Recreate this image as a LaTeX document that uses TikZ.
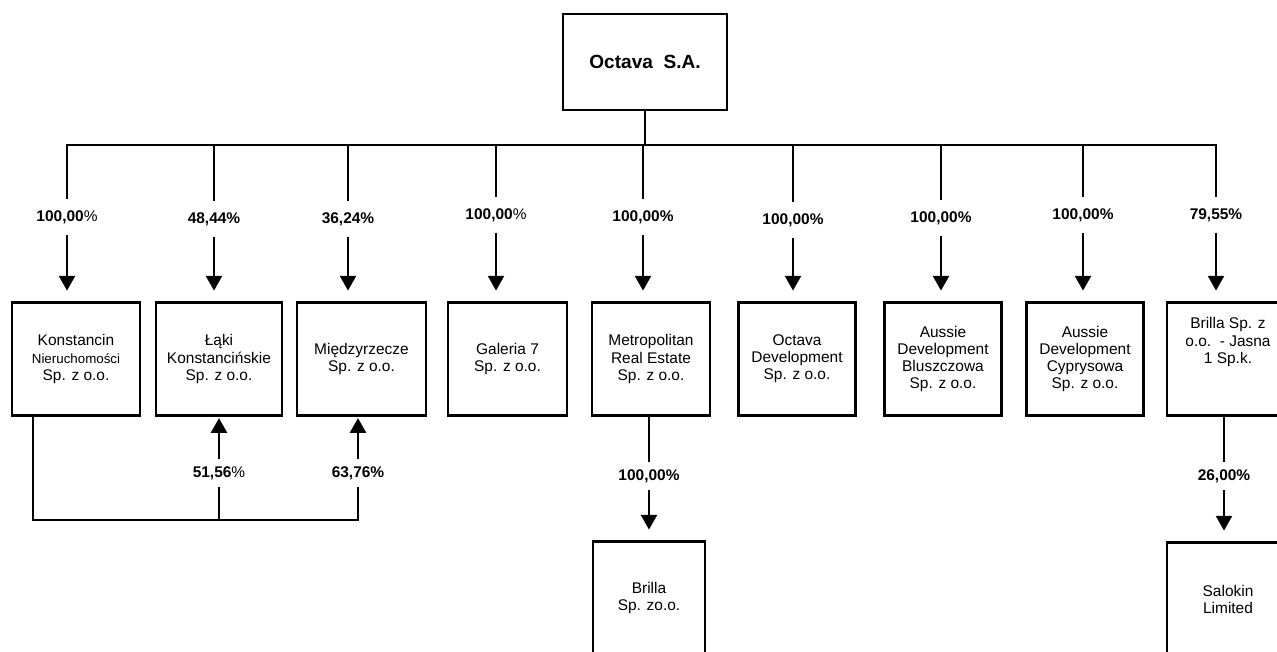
\documentclass[tikz,border=0pt]{standalone}
\usepackage{fontspec}
\setmainfont{Liberation Sans}
\usetikzlibrary{arrows.meta, positioning}

\begin{document}
\begin{tikzpicture}[x=0.75pt, y=-0.75pt,
    firm/.style={
      rectangle, draw=black, line width=1.9pt, minimum height=84.75pt,
      align=center, inner sep=2pt, font=\fontsize{11.6}{12.8}\selectfont
    },
    share/.style={font=\fontsize{11.6}{13}\selectfont\bfseries, inner xsep=1pt, inner ysep=8pt},
    sharelow/.style={share, inner ysep=5.5pt},
    link/.style={line width=1.6pt, line join=miter},
    own/.style={line width=1.6pt, -{Triangle[length=11pt, width=12pt]}, shorten >=8pt},
    ownup/.style={own, shorten >=1pt}
  ]
    \useasboundingbox (0,0) rectangle (1277,651);
    \clip (0,0) rectangle (1277,651);

    % holding company
    \node[firm, minimum width=123pt, minimum height=72pt,
      font=\fontsize{14.3}{16}\selectfont\bfseries] (octava) at (645,62) {Octava\ \ S.A.};

    % subsidiaries
    \node[firm, minimum width=96pt] (konst) at (76,359)
      {Konstancin\\{\fontsize{10}{12}\selectfont Nieruchomości}\\Sp. z o.o.};
    \node[firm, minimum width=94.5pt] (laki) at (219,359) {Łąki\\Konstancińskie\\Sp. z o.o.};
    \node[firm, minimum width=96.75pt] (miedzy) at (361.5,359) {Międzyrzecze\\Sp. z o.o.};
    \node[firm, minimum width=89.25pt] (galeria) at (507.5,359) {Galeria 7\\Sp. z o.o.};
    \node[firm, minimum width=88.5pt] (metro) at (651,359) {Metropolitan\\Real Estate\\Sp. z o.o.};
    \node[firm, minimum width=87.75pt] (octdev) at (797,359) {Octava\\Development\\Sp. z o.o.};
    \node[firm, minimum width=87.75pt] (aussieb) at (943,359) {Aussie\\Development\\Bluszczowa\\Sp. z o.o.};
    \node[firm, minimum width=87.75pt] (aussiec) at (1085,359) {Aussie\\Development\\Cyprysowa\\Sp. z o.o.};
    \node[firm, minimum width=91.5pt] (jasna) at (1228,359) {};
    \node[align=center, font=\fontsize{11.6}{12.8}\selectfont] (jasnatxt) at (1228,342)
      {Brilla Sp. z\\o.o.\ \ - Jasna\\1 Sp.k.};

    % second level
    \node[firm, minimum width=84pt] (brilla) at (649,598) {Brilla\\Sp. zo.o.};
    \node[firm, minimum width=91.5pt] (salokin) at (1228,599) {Salokin\\Limited};

    % shares, first level
    \node[share] (s1) at (67,217) {100,00\textmd{\%}};
    \node[share] (s2) at (214,219) {48,44\%};
    \node[share] (s3) at (348,219) {36,24\%};
    \node[share] (s4) at (496,215) {100,00\textmd{\%}};
    \node[share] (s5) at (643,217) {100,00\%};
    \node[share] (s6) at (793,220) {100,00\%};
    \node[share] (s7) at (941,218) {100,00\%};
    \node[share] (s8) at (1083,215) {100,00\%};
    \node[share] (s9) at (1216,215) {79,55\%};

    \coordinate (busL) at (67,145);
    \coordinate (busR) at (1216,145);
    \draw[link] (octava.south) -- (octava.south |- busL);
    \draw[link] (s1.north) -- (busL) -- (busR) -- (s9.north);
    \foreach \s in {s2,s3,s4,s5,s6,s7,s8}
      \draw[link] (\s.north |- busL) -- (\s.north);

    \draw[own] (s1.south) -- (s1.south |- konst.north);
    \draw[own] (s2.south) -- (s2.south |- laki.north);
    \draw[own] (s3.south) -- (s3.south |- miedzy.north);
    \draw[own] (s4.south) -- (s4.south |- galeria.north);
    \draw[own] (s5.south) -- (s5.south |- metro.north);
    \draw[own] (s6.south) -- (s6.south |- octdev.north);
    \draw[own] (s7.south) -- (s7.south |- aussieb.north);
    \draw[own] (s8.south) -- (s8.south |- aussiec.north);
    \draw[own] (s9.south) -- (s9.south |- jasna.north);

    % cross holdings of Konstancin
    \node[sharelow] (k2) at (219,473) {51,56\textmd{\%}};
    \node[sharelow] (k3) at (358,473) {63,76\%};
    \coordinate (lowL) at (33,520);
    \coordinate (lowR) at (358,520);
    \draw[link] (konst.south -| lowL) -- (lowL) -- (lowR) -- (k3.south);
    \draw[link] (k2.south |- lowL) -- (k2.south);
    \draw[ownup] (k2.north) -- (k2.north |- laki.south);
    \draw[ownup] (k3.north) -- (k3.north |- miedzy.south);

    % second level shares
    \node[sharelow] (m1) at (649,476) {100,00\%};
    \draw[link] (metro.south -| m1) -- (m1.north);
    \draw[own] (m1.south) -- (m1.south |- brilla.north);

    \node[sharelow] (j1) at (1224,476) {26,00\%};
    \draw[link] (jasna.south -| j1) -- (j1.north);
    \draw[own] (j1.south) -- (j1.south |- salokin.north);
  \end{tikzpicture}
\end{document}
